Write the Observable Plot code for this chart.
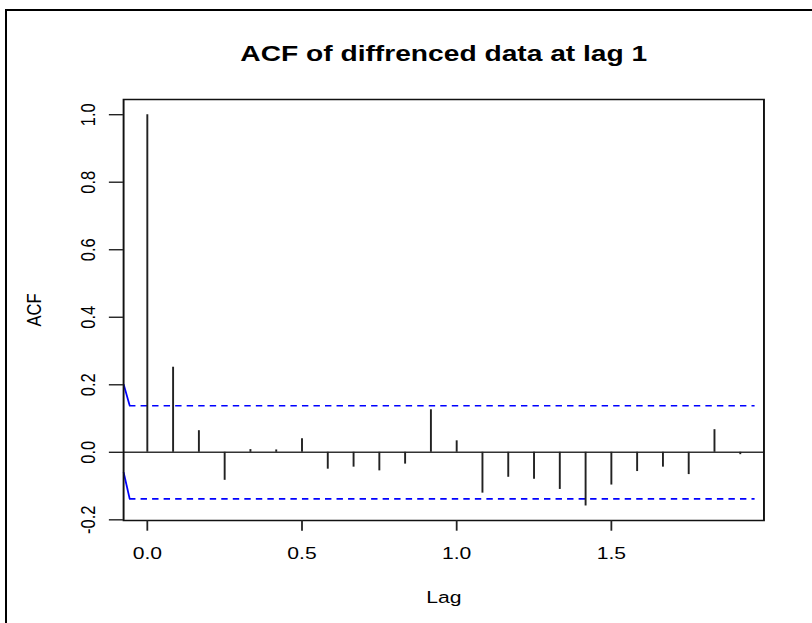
<!DOCTYPE html>
<html>
<head>
<meta charset="utf-8">
<script src="https://cdn.jsdelivr.net/npm/d3@7"></script>
<script src="https://cdn.jsdelivr.net/npm/@observablehq/plot@0.6"></script>
<style>
  html, body { margin: 0; padding: 0; background: #fff; }
  #wrap { position: relative; width: 812px; height: 623px; overflow: hidden; background: #fff; }
  #chart svg { display: block; }
  #border { position: absolute; left: 5px; top: 9px; right: -10px; bottom: -10px;
            border-left: 2px solid #000; border-top: 2px solid #000; pointer-events: none; }
</style>
</head>
<body>
<div id="wrap"><div id="chart"></div><div id="border"></div></div>
<script>
// ---- data ----
const titleText = "ACF of diffrenced data at lag 1";
const xLabel = "Lag";
const yLabel = "ACF";
const lags = [0, 0.0833, 0.1667, 0.25, 0.3333, 0.4167, 0.5, 0.5833, 0.6667, 0.75, 0.8333, 0.9167,
              1, 1.0833, 1.1667, 1.25, 1.3333, 1.4167, 1.5, 1.5833, 1.6667, 1.75, 1.8333, 1.9167];
const acfValues = [1.000, 0.252, 0.064, -0.083, 0.008, 0.007, 0.040, -0.050, -0.044, -0.055, -0.035, 0.126,
                   0.034, -0.121, -0.074, -0.080, -0.110, -0.159, -0.097, -0.057, -0.044, -0.066, 0.067, -0.007];
const confLimit = 0.138;
const xTicks = [0, 0.5, 1.0, 1.5];
const yTicks = [-0.2, 0.0, 0.2, 0.4, 0.6, 0.8, 1.0];
const xDomain = [-0.0767, 1.9933];
const yDomain = [-0.202, 1.045];
const dashX1 = [-0.057];
const dashX2 = [1.965];
// short slanted blue segments at the left edge of the panel
const stubX1 = [-0.0767, -0.0767];
const stubY1 = [0.2018, -0.059];
const stubX2 = [-0.057, -0.057];
const stubY2 = [0.138, -0.138];

const acfData = lags.map((lag, i) => ({lag, acf: acfValues[i]}));
const stubs = stubX1.map((x1, i) => ({x1, y1: stubY1[i], x2: stubX2[i], y2: stubY2[i]}));
const limits = [confLimit, -confLimit].map(y => ({y, x1: dashX1[0], x2: dashX2[0]}));

const W = 634, H = 623, SCREEN_W = 812;
const fmt = d => d.toFixed(1);
const font = "'Liberation Sans', Arial, Helvetica, sans-serif";

const svg = Plot.plot({
  width: W, height: H,
  marginLeft: 96, marginRight: 38, marginTop: 99, marginBottom: 103,
  x: {domain: xDomain, axis: null},
  y: {domain: yDomain, axis: null},
  style: {fontFamily: font, fontSize: "16px", background: "#fff", color: "#000", overflow: "visible"},
  marks: [
    Plot.ruleY([0], {stroke: "#333", strokeWidth: 1.4}),
    Plot.ruleY(limits, {y: "y", x1: "x1", x2: "x2", stroke: "#0000ff", strokeWidth: 1.6, strokeDasharray: "5,4"}),
    Plot.link(stubs, {x1: "x1", y1: "y1", x2: "x2", y2: "y2", stroke: "#0000ff", strokeWidth: 1.4}),
    Plot.ruleX(acfData, {x: "lag", y1: 0, y2: "acf", stroke: "#222", strokeWidth: 1.5}),
    Plot.frame({stroke: "#111", strokeWidth: 1.5}),
    Plot.axisX(xTicks, {tickSize: 10.7, tickPadding: 16, tickFormat: fmt, fontSize: 16.5, stroke: "#222", strokeWidth: 1.4, label: null}),
    Plot.axisY(yTicks, {tickSize: 11, tickPadding: 11, tickRotate: -90, tickFormat: fmt, fontSize: 16.5, stroke: "#222", strokeWidth: 1.4, label: null}),
    Plot.text([xLabel], {frameAnchor: "bottom", dy: 77, textAnchor: "middle", lineAnchor: "middle", fontSize: 16.5, fill: "#000"}),
    Plot.text([yLabel], {frameAnchor: "left", rotate: -90, dx: -70, textAnchor: "middle", lineAnchor: "middle", fontSize: 16.5, fill: "#000"}),
    Plot.text([titleText], {frameAnchor: "top", dy: -46, textAnchor: "middle", lineAnchor: "middle", fontSize: 22, fontWeight: "bold", fill: "#000"})
  ]
});

svg.setAttribute("width", SCREEN_W);
svg.setAttribute("height", H);
svg.setAttribute("preserveAspectRatio", "none");
svg.style.width = SCREEN_W + "px";
svg.style.height = H + "px";
svg.style.maxWidth = "none";
document.getElementById("chart").appendChild(svg);
</script>
</body>
</html>
